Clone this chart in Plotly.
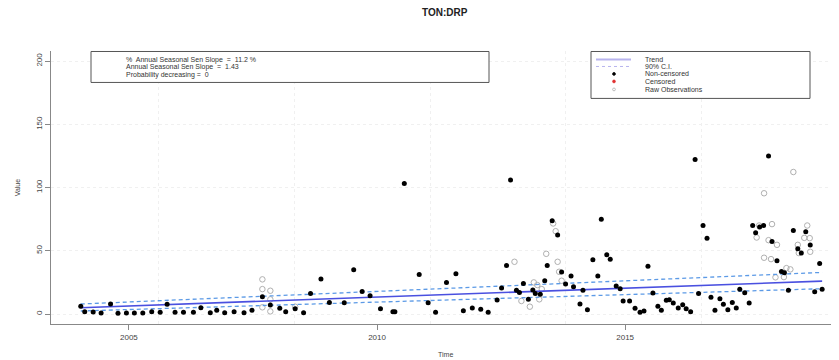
import plotly.graph_objects as go

# ---------------- data ----------------
nc_years = [2004.03, 2004.11, 2004.28, 2004.44, 2004.63, 2004.78, 2004.95, 2005.11, 2005.28, 2005.46,
            2005.63, 2005.77, 2005.93, 2006.10, 2006.30, 2006.45, 2006.64, 2006.77, 2006.93, 2007.12,
            2007.32, 2007.48, 2007.69, 2007.85, 2008.04, 2008.16, 2008.35, 2008.52, 2008.66, 2008.87,
            2009.04, 2009.34, 2009.53, 2009.70, 2009.86, 2010.07, 2010.32, 2010.36, 2010.55, 2010.85,
            2011.03, 2011.18, 2011.40, 2011.59, 2011.74, 2011.92, 2012.09, 2012.24, 2012.42, 2012.51,
            2012.61, 2012.69, 2012.81, 2012.87, 2012.95, 2013.05, 2013.14, 2013.19, 2013.29, 2013.38,
            2013.43, 2013.53, 2013.64, 2013.72, 2013.80, 2013.91, 2013.96, 2014.09, 2014.15, 2014.24,
            2014.35, 2014.45, 2014.52, 2014.63, 2014.70, 2014.82, 2014.90, 2014.96, 2015.09, 2015.20,
            2015.30, 2015.38, 2015.46, 2015.56, 2015.66, 2015.73, 2015.83, 2015.89, 2015.97, 2016.07,
            2016.16, 2016.23, 2016.32, 2016.41, 2016.48, 2016.57, 2016.65, 2016.73, 2016.81, 2016.91,
            2016.98, 2017.07, 2017.16, 2017.24, 2017.31, 2017.41, 2017.50, 2017.57, 2017.63, 2017.71,
            2017.79, 2017.89, 2017.96, 2018.06, 2018.15, 2018.21, 2018.29, 2018.39, 2018.48, 2018.55,
            2018.64, 2018.73, 2018.82, 2018.92, 2018.97]
nc_values = [6.1, 1.8, 1.6, 0.8, 7.9, 0.6, 0.8, 0.8, 0.8, 1.8,
             1.3, 7.7, 1.3, 1.3, 1.3, 5.0, 1.0, 2.9, 1.0, 1.8,
             1.0, 2.9, 13.7, 7.1, 4.5, 1.8, 4.2, 1.0, 16.3, 27.6,
             9.2, 8.9, 35.0, 17.9, 14.4, 4.2, 1.8, 1.8, 103.2, 31.3,
             8.9, 1.3, 25.0, 31.8, 2.6, 4.7, 3.7, 1.3, 11.1, 20.5,
             38.4, 106.0, 18.7, 17.1, 24.2, 11.6, 18.9, 16.3, 15.6, 26.3,
             38.4, 73.7, 62.4, 33.2, 23.7, 30.0, 21.6, 7.9, 18.7, 3.4,
             42.9, 30.0, 75.0, 46.8, 43.4, 22.1, 20.0, 10.3, 10.3, 4.5,
             1.3, 2.4, 37.7, 16.6, 6.1, 2.9, 10.8, 11.3, 8.7, 4.7,
             7.3, 4.2, 1.8, 122.1, 16.3, 70.0, 60.0, 13.2, 2.9, 12.1,
             7.7, 3.4, 9.2, 4.7, 19.5, 16.8, 8.7, 70.0, 64.2, 68.9,
             70.0, 125.0, 57.4, 42.1, 33.7, 32.6, 18.7, 66.1, 51.6, 48.2,
             65.0, 54.5, 17.6, 40.0, 19.5]

raw_years = [2007.69, 2007.69, 2007.69, 2007.85, 2007.85, 2007.85, 2008.35,
             2012.77, 2012.91, 2013.08, 2013.16, 2013.23, 2013.27, 2013.32, 2013.41,
             2013.55, 2013.60, 2013.64, 2013.67, 2013.72,
             2017.65, 2017.70, 2017.80, 2017.80, 2017.89, 2017.96, 2017.94, 2018.06,
             2018.03, 2018.20, 2018.25, 2018.33, 2018.39, 2018.48, 2018.50, 2018.61,
             2018.67, 2018.72, 2018.73]
raw_values = [27.4, 19.7, 5.3, 18.4, 11.6, 2.1, 5.8,
              41.3, 10.3, 5.8, 25.0, 22.9, 11.6, 19.7, 47.6,
              71.6, 65.5, 41.3, 33.4, 26.3,
              60.5, 70.0, 95.5, 44.5, 58.4, 71.1, 43.4, 54.7,
              29.0, 29.2, 36.3, 35.3, 112.3, 54.7, 48.2, 60.2,
              70.0, 60.0, 49.2]

trend_years = [2004.03, 2018.97]
trend_values = [5.0, 26.0]
ci_lower = [2.4, 20.0]
ci_upper = [7.9, 32.9]

x_tick_vals = [2005, 2010, 2015]
x_tick_text = ["2005", "2010", "2015"]
y_tick_vals = [0, 50, 100, 150, 200]
grid_days = [13000, 14000, 15000, 16000, 17000, 18000]   # R Date grid (days since 1970)
grid_years = [1970 + d / 365.25 for d in grid_days]

title = "TON:DRP"
stats_lines = ["%  Annual Seasonal Sen Slope  =  11.2 %",
               "Annual Seasonal Sen Slope  =  1.43",
               "Probability decreasing =  0"]
legend_labels = ["Trend", "90% C.I.", "Non-censored", "Censored", "Raw Observations"]

# ---------------- figure ----------------
# The page body has an 8px margin, so the figure is drawn 8px in from the window corner.
OFF = 8
W, H = 839 - OFF, 360 - OFF
PLOT_LEFT, PLOT_TOP, PLOT_BOTTOM = 51 - OFF, 50.5 - OFF, 324 - OFF
L, R, T, B = PLOT_LEFT, 0, PLOT_TOP, H - PLOT_BOTTOM
PW, PH = W - L - R, H - T - B
FONT = "Liberation Sans, Arial, sans-serif"
SHORT_DASH = "4px,3px"


def px(xp):
    """window pixel x -> paper x"""
    return (xp - OFF - L) / PW


def py(yp):
    """window pixel y -> paper y"""
    return (PLOT_BOTTOM - (yp - OFF)) / PH


fig = go.Figure()
fig.add_trace(go.Scatter(x=raw_years, y=raw_values, mode="markers",
                         marker=dict(symbol="circle-open", size=5.5, color="#b0b0b0", line=dict(width=1)),
                         showlegend=False, hoverinfo="x+y"))
fig.add_trace(go.Scatter(x=trend_years, y=ci_upper, mode="lines",
                         line=dict(color="#5c9ae6", width=1.3, dash=SHORT_DASH), showlegend=False))
fig.add_trace(go.Scatter(x=trend_years, y=ci_lower, mode="lines",
                         line=dict(color="#5c9ae6", width=1.3, dash=SHORT_DASH), showlegend=False))
fig.add_trace(go.Scatter(x=trend_years, y=trend_values, mode="lines",
                         line=dict(color="#4a50e0", width=1.6), showlegend=False))
fig.add_trace(go.Scatter(x=nc_years, y=nc_values, mode="markers",
                         marker=dict(symbol="circle", size=5, color="black"),
                         showlegend=False, hoverinfo="x+y"))

shapes = []
annotations = []

# stats box
shapes.append(dict(type="rect", xref="paper", yref="paper", x0=px(91), x1=px(489), y0=py(82), y1=py(51),
                   line=dict(color="#555555", width=1), fillcolor="white", layer="above"))
for i, s in enumerate(stats_lines):
    annotations.append(dict(text=s, xref="paper", yref="paper", x=px(124), y=py(59.3 + 7.7 * i),
                            xanchor="left", yanchor="middle", showarrow=False,
                            font=dict(family=FONT, size=7, color="#333333")))

# legend box
shapes.append(dict(type="rect", xref="paper", yref="paper", x0=px(591), x1=px(810), y0=py(98), y1=py(51),
                   line=dict(color="#555555", width=1), fillcolor="white", layer="above"))
rows = [59, 66, 73.5, 81, 89]
for i, lab in enumerate(legend_labels):
    annotations.append(dict(text=lab, xref="paper", yref="paper", x=px(643), y=py(rows[i]),
                            xanchor="left", yanchor="middle", showarrow=False,
                            font=dict(family=FONT, size=7, color="#333333")))
shapes.append(dict(type="line", xref="paper", yref="paper", x0=px(596), x1=px(631), y0=py(rows[0]), y1=py(rows[0]),
                   line=dict(color="#b8b4ee", width=2), layer="above"))
shapes.append(dict(type="line", xref="paper", yref="paper", x0=px(596), x1=px(631), y0=py(rows[1]), y1=py(rows[1]),
                   line=dict(color="#b8b4ee", width=1, dash="3px,3px"), layer="above"))
for i, (col, fill) in enumerate([("black", "black"), ("#e03030", "#e03030"), ("#b0b0b0", "rgba(0,0,0,0)")]):
    r = 1.4
    cy = rows[2 + i]
    shapes.append(dict(type="circle", xref="paper", yref="paper", x0=px(614 - r), x1=px(614 + r),
                       y0=py(cy + r), y1=py(cy - r), line=dict(color=col, width=0.8), fillcolor=fill,
                       layer="above"))

annotations.append(dict(text="<b>" + title + "</b>", xref="paper", yref="paper", x=px(445), y=py(12),
                        xanchor="center", yanchor="middle", showarrow=False,
                        font=dict(family=FONT, size=10, color="#222222")))
annotations.append(dict(text="Time", xref="paper", yref="paper", x=px(445), y=py(355),
                        xanchor="center", yanchor="middle", showarrow=False,
                        font=dict(family=FONT, size=7, color="#444444")))
annotations.append(dict(text="Value", xref="paper", yref="paper", x=px(17), y=py(188),
                        xanchor="center", yanchor="middle", showarrow=False, textangle=-90,
                        font=dict(family=FONT, size=7, color="#444444")))

fig.update_layout(
    width=W, height=H, margin=dict(l=L, r=R, t=T, b=B, autoexpand=False),
    paper_bgcolor="white", plot_bgcolor="white",
    showlegend=False, shapes=shapes, annotations=annotations,
    font=dict(family=FONT, size=8, color="#444444"),
    xaxis=dict(range=[2003.43, 2019.31], tickmode="array", tickvals=x_tick_vals, ticktext=x_tick_text,
               showgrid=False, zeroline=False, showline=True, linecolor="#888888", linewidth=1,
               ticks="outside", ticklen=5, tickcolor="#888888", automargin=False,
               tickfont=dict(family=FONT, size=8, color="#444444"),
               minor=dict(tickmode="array", tickvals=grid_years, showgrid=True, gridcolor="#f0f0f0",
                          griddash="dot", gridwidth=1, ticks="")),
    yaxis=dict(range=[-7.9, 208], tickmode="array", tickvals=y_tick_vals,
               showgrid=True, gridcolor="#f0f0f0", griddash="dot", zeroline=False,
               showline=True, linecolor="#888888", linewidth=1, automargin=False,
               ticks="outside", ticklen=5, tickcolor="#888888", tickangle=-90,
               tickfont=dict(family=FONT, size=8, color="#444444")),
)

fig.write_html("out.html")
